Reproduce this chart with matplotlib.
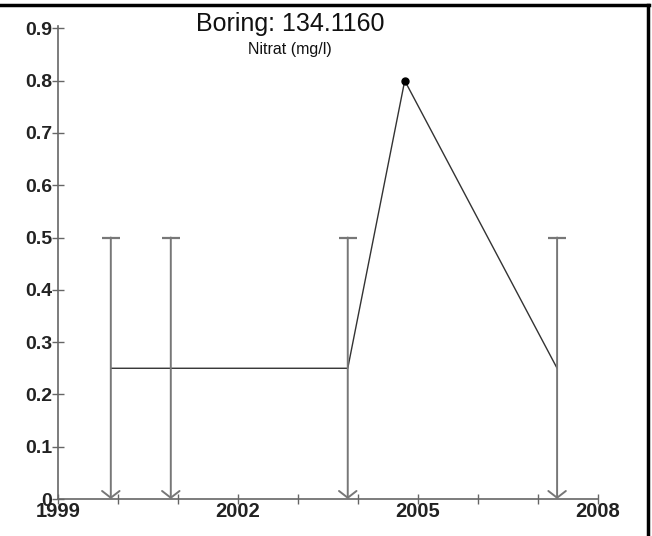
import numpy as np
import matplotlib.pyplot as plt
from matplotlib.lines import Line2D

plt.rcParams['font.family'] = ['Liberation Sans', 'DejaVu Sans']

# sampling dates (decimal years) and nitrate values
dates = [1999.88, 2000.88, 2003.83, 2004.78, 2007.32]
values = [0.25, 0.25, 0.25, 0.80, 0.25]
# samples below the detection limit: limit value shown as bar down to zero
below_limit = [True, True, True, False, True]
detection_limit = 0.5

x_ticks = [1999, 2002, 2005, 2008]
y_ticks = [0, 0.1, 0.2, 0.3, 0.4, 0.5, 0.6, 0.7, 0.8, 0.9]
y_labels = ['0', '0.1', '0.2', '0.3', '0.4', '0.5', '0.6', '0.7', '0.8', '0.9']

fig = plt.figure(figsize=(6.52, 5.36), dpi=100)
ax = fig.add_axes([0.089, 0.069, 0.828, 0.883])

ax.plot(dates, values, color='#333333', lw=1.0, zorder=3)

for d, v, below in zip(dates, values, below_limit):
    if below:
        ax.annotate('', xy=(d, 0), xytext=(d, detection_limit),
                    arrowprops=dict(arrowstyle='->,head_length=0.35,head_width=0.45',
                                    color='#777777', lw=1.4,
                                    mutation_scale=14, shrinkA=0, shrinkB=0))
        ax.plot([d], [detection_limit], marker='_', ms=13, mew=1.6,
                color='#777777')
    else:
        ax.plot([d], [v], 'o', color='black', ms=5, zorder=4)

ax.set_xlim(1999, 2008)
ax.set_ylim(0, 0.905)
ax.set_xticks(x_ticks)
ax.set_xticks(np.arange(1999, 2009), minor=True)
ax.set_yticks(y_ticks)
ax.set_yticklabels(y_labels)

for s in ['top', 'right']:
    ax.spines[s].set_visible(False)
for s in ['left', 'bottom']:
    ax.spines[s].set_color('#666666')
    ax.spines[s].set_linewidth(1.2)

ax.tick_params(axis='y', direction='inout', length=8, width=1, color='#666666',
               labelsize=14, pad=0)
ax.tick_params(axis='x', which='both', direction='inout', length=7, width=1,
               color='#666666', labelsize=14.5, pad=-1)
for lab in ax.get_xticklabels() + ax.get_yticklabels():
    lab.set_fontweight('bold')
    lab.set_color('#222222')

fig.text(0.445, 0.956, 'Boring: 134.1160', ha='center', va='center',
         fontsize=18, color='#111111')
fig.text(0.445, 0.907, 'Nitrat (mg/l)', ha='center', va='center',
         fontsize=11.5, color='#111111')

# frame edges along the top and right
fig.add_artist(Line2D([0, 0.995], [0.99, 0.99], transform=fig.transFigure,
                      color='black', lw=2.5))
fig.add_artist(Line2D([0.994, 0.994], [0, 0.99], transform=fig.transFigure,
                      color='black', lw=2.5))

fig.savefig('out.png', dpi=100)
